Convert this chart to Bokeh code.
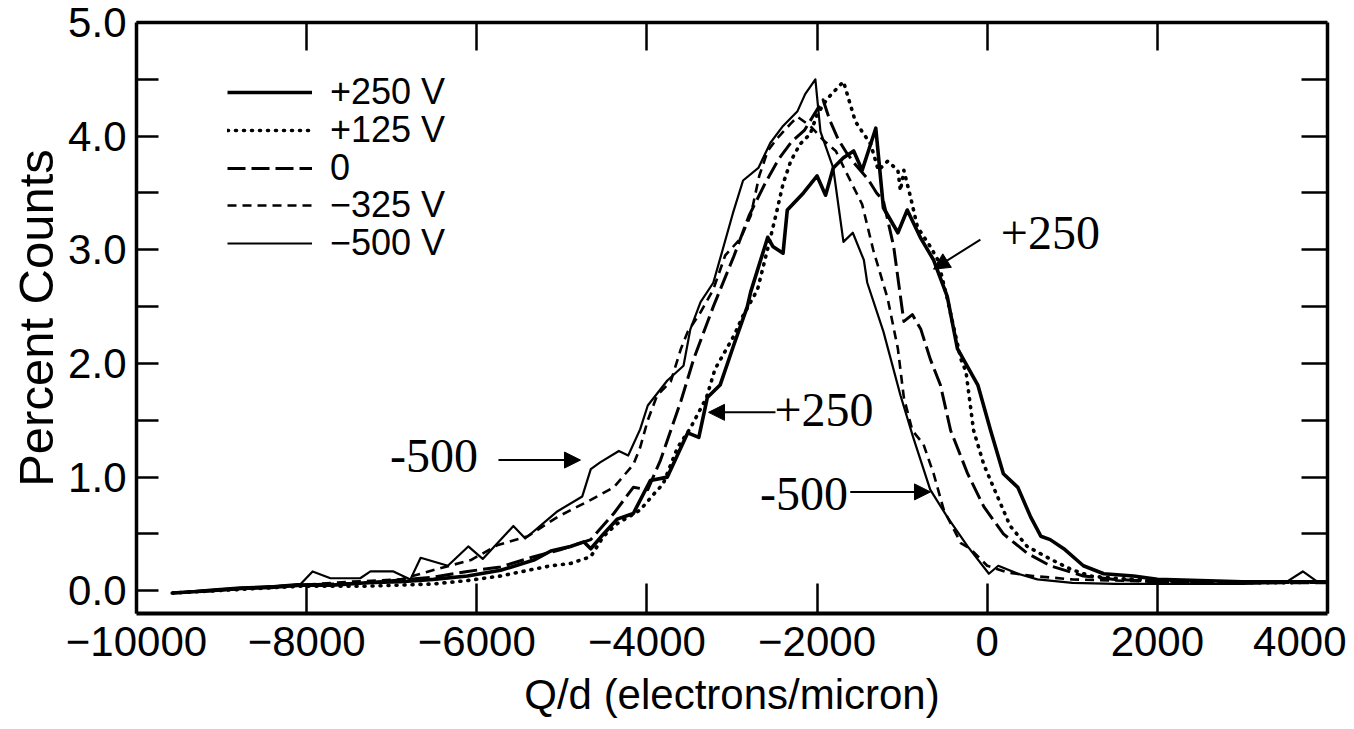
from bokeh.plotting import figure
from bokeh.models import (Range1d, LinearAxis, FixedTicker, NumeralTickFormatter,
                          CustomJSTickFormatter, Legend, LegendItem, Arrow, NormalHead, Label)
from bokeh.embed import file_html
from bokeh.resources import INLINE

# ---------------- data ----------------
X_TICKS = [-10000, -8000, -6000, -4000, -2000, 0, 2000, 4000]
Y_TICKS = [0, 1, 2, 3, 4, 5]
Y_MINOR = [0.5, 1.5, 2.5, 3.5, 4.5]
SERIES_NAMES = ["+250 V", "+125 V", "0", "\u2212325 V", "\u2212500 V"]
X_LABEL = "Q/d (electrons/micron)"
Y_LABEL = "Percent Counts"

P250_X = [-9580, -9130, -8780, -8420, -8070, -7700, -7290, -6900, -6510, -6110, -5720, -5330,
          -5130, -4900, -4740, -4660, -4510, -4350, -4160, -3960, -3760, -3600, -3520, -3390,
          -3290, -3140, -2980, -2820, -2780, -2580, -2520, -2400, -2350, -2160, -2000, -1900,
          -1810, -1690, -1570, -1470, -1310, -1220, -1050, -940, -780, -630, -470, -350, -110,
          40, 190, 360, 510, 630, 740, 900, 1130, 1370, 1720, 2000, 2500, 3000, 3500, 4000]
P250_Y = [-0.02, 0.00, 0.02, 0.03, 0.05, 0.05, 0.07, 0.08, 0.10, 0.13, 0.18, 0.27,
          0.35, 0.39, 0.43, 0.37, 0.50, 0.63, 0.68, 0.97, 1.00, 1.26, 1.39, 1.35,
          1.70, 1.81, 2.16, 2.50, 2.63, 3.11, 3.03, 2.97, 3.35, 3.50, 3.65, 3.48,
          3.72, 3.81, 3.87, 3.70, 4.07, 3.37, 3.15, 3.35, 3.10, 2.91, 2.59, 2.13, 1.81,
          1.41, 1.03, 0.91, 0.65, 0.48, 0.45, 0.37, 0.22, 0.15, 0.13, 0.10, 0.09, 0.08, 0.08, 0.08]

P125_X = [-9580, -8070, -7290, -6510, -6110, -5720, -5330, -5130, -4900, -4660, -4510, -4350,
          -4080, -3920, -3810, -3640, -3490, -3300, -3200, -2980, -2870, -2700, -2550, -2470,
          -2400, -2310, -2200, -2080, -2000, -1880, -1690, -1610, -1550, -1470, -1370, -1280,
          -1170, -1050, -1020, -980, -900, -820, -670, -580, -470, -310, -250, -160, -40,
          120, 270, 470, 740, 980, 1210, 1500, 2000, 2500, 3000, 3500, 4000]
P125_Y = [-0.02, 0.04, 0.04, 0.06, 0.09, 0.13, 0.19, 0.22, 0.24, 0.30, 0.48, 0.59,
          0.71, 0.85, 0.94, 1.26, 1.43, 1.70, 1.95, 2.24, 2.42, 2.65, 3.10, 3.35,
          3.58, 3.78, 3.93, 4.02, 4.19, 4.33, 4.48, 4.28, 4.13, 4.04, 3.93, 3.70,
          3.78, 3.70, 3.52, 3.70, 3.46, 3.20, 3.03, 2.91, 2.57, 2.04, 1.93, 1.41, 1.11,
          0.83, 0.57, 0.39, 0.28, 0.19, 0.13, 0.11, 0.09, 0.08, 0.07, 0.07, 0.08]

Z0_X = [-9580, -8070, -7290, -6510, -6110, -5720, -5330, -5020, -4660, -4390, -4160, -3990,
        -3840, -3600, -3450, -3220, -2980, -2800, -2600, -2450, -2300, -2150, -1930, -1850,
        -1750, -1650, -1550, -1400, -1300, -1220, -1100, -980, -880, -780, -670, -550, -430,
        -230, -40, 190, 470, 740, 1130, 1500, 2000, 2500, 3000, 3500, 4000]
Z0_Y = [-0.02, 0.05, 0.07, 0.12, 0.17, 0.21, 0.30, 0.36, 0.45, 0.68, 0.91, 0.89,
        1.15, 1.67, 2.04, 2.50, 2.94, 3.30, 3.60, 3.80, 3.95, 4.05, 4.32, 4.14,
        3.97, 3.85, 3.75, 3.62, 3.50, 3.43, 3.03, 2.37, 2.43, 2.30, 2.04, 1.81, 1.41,
        1.03, 0.74, 0.50, 0.33, 0.22, 0.13, 0.10, 0.08, 0.07, 0.07, 0.07, 0.07]

M325_X = [-9580, -8070, -7480, -6900, -6420, -6070, -5760, -5400, -5050, -4660, -4390, -4160,
          -4080, -3990, -3880, -3720, -3600, -3520, -3370, -3220, -3080, -2900, -2780, -2680,
          -2580, -2470, -2310, -2230, -2080, -1920, -1780, -1670, -1470, -1340, -1170, -1050,
          -980, -880, -750, -630, -510, -310, -200, 0, 240, 540, 1000, 1500, 2000, 2500,
          3000, 3500, 4000]
M325_Y = [-0.02, 0.05, 0.08, 0.10, 0.20, 0.27, 0.40, 0.48, 0.65, 0.80, 0.91, 1.11,
          1.26, 1.50, 1.72, 1.84, 2.13, 2.28, 2.45, 2.65, 2.95, 3.10, 3.30, 3.65,
          3.87, 3.98, 4.11, 4.17, 4.09, 3.96, 3.87, 3.70, 3.40, 3.00, 2.57, 2.13,
          1.70, 1.41, 1.29, 1.03, 0.71, 0.42, 0.37, 0.22, 0.16, 0.13, 0.10, 0.09, 0.08, 0.08,
          0.07, 0.07, 0.07]

M500_X = [-9580, -9130, -8780, -8430, -8070, -7930, -7720, -7370, -7250, -6980, -6780, -6660,
          -6340, -6100, -5930, -5570, -5430, -5050, -4760, -4660, -4550, -4330, -4220, -4080,
          -3990, -3760, -3570, -3490, -3370, -3220, -3110, -2990, -2870, -2690, -2550, -2400,
          -2230, -2140, -2020, -1960, -1810, -1690, -1580, -1450, -1410, -1220, -1020, -870,
          -670, -470, -230, 20, 130, 360, 590, 1000, 1500, 2000, 2500, 3000, 3500, 3710,
          3900, 4000]
M500_Y = [-0.02, 0.01, 0.03, 0.04, 0.06, 0.17, 0.11, 0.11, 0.17, 0.17, 0.10, 0.29,
          0.22, 0.39, 0.28, 0.57, 0.46, 0.70, 0.83, 1.07, 1.13, 1.23, 1.19, 1.42,
          1.63, 1.85, 1.98, 2.30, 2.54, 2.71, 3.00, 3.32, 3.61, 3.72, 3.94, 4.09,
          4.22, 4.37, 4.50, 4.04, 3.72, 3.07, 3.15, 2.91, 2.71, 2.28, 1.72, 1.35,
          0.89, 0.65, 0.39, 0.15, 0.22, 0.15, 0.10, 0.07, 0.06, 0.06, 0.06, 0.06, 0.07, 0.17,
          0.07, 0.07]

# annotation texts and anchor points (data units)
ANN_TEXTS = ["-500", "+250", "-500", "+250"]
ANN_TEXT_POS = [(-7020, 1.19), (-2500, 1.59), (-2670, 0.85), (160, 3.15)]
ANN_ARROWS = [(-5745, 1.15, -4781, 1.15), (-2489, 1.57, -3276, 1.57),
              (-1610, 0.87, -667, 0.87), (-80, 3.09, -631, 2.83)]

# ---------------- figure ----------------
SANS = "Liberation Sans"
SERIF = "Liberation Serif"

p = figure(width=1346, height=729,
           x_range=Range1d(-10000, 4000), y_range=Range1d(-0.2, 5.0),
           output_backend="svg", toolbar_location=None,
           min_border_left=136, min_border_right=19, min_border_top=22, min_border_bottom=116)
p.grid.visible = False
p.outline_line_color = None
p.background_fill_color = "white"
p.border_fill_color = "white"

styles = [
    dict(x=P250_X, y=P250_Y, line_width=3.6, line_dash="solid"),
    dict(x=P125_X, y=P125_Y, line_width=3.6, line_dash="1 7", line_cap="round"),
    dict(x=Z0_X, y=Z0_Y, line_width=3.0, line_dash="18 6"),
    dict(x=M325_X, y=M325_Y, line_width=2.6, line_dash="9 6"),
    dict(x=M500_X, y=M500_Y, line_width=2.2, line_dash="solid"),
]
renderers = []
for st in styles:
    r = p.line(st["x"], st["y"], line_color="black", line_width=st["line_width"],
               line_dash=st["line_dash"], line_cap=st.get("line_cap", "butt"),
               line_join="round")
    renderers.append(r)

# bottom axis
xa = p.xaxis[0]
xa.ticker = FixedTicker(ticks=X_TICKS)
xa.formatter = CustomJSTickFormatter(
    code="return tick < 0 ? '\\u2212' + Math.abs(tick) : String(tick);")
xa.axis_line_width = 4
xa.major_tick_in = 30
xa.major_tick_out = 0
xa.minor_tick_in = 0
xa.minor_tick_out = 0
xa.major_tick_line_width = 2.5
xa.major_label_text_font = SANS
xa.major_label_text_font_size = "42px"
xa.major_label_text_color = "black"
xa.major_label_standoff = 13
xa.axis_label = X_LABEL
xa.axis_label_text_font = SANS
xa.axis_label_text_font_size = "42px"
xa.axis_label_text_font_style = "normal"
xa.axis_label_text_color = "black"
xa.axis_label_standoff = 12

# left axis
ya = p.yaxis[0]
ya.ticker = FixedTicker(ticks=Y_TICKS, minor_ticks=Y_MINOR)
ya.formatter = NumeralTickFormatter(format="0.0")
ya.axis_line_width = 3.5
ya.major_tick_in = 22
ya.major_tick_out = 0
ya.minor_tick_in = 22
ya.minor_tick_out = 0
ya.major_tick_line_width = 2.5
ya.minor_tick_line_width = 2.5
ya.minor_tick_line_color = "black"
ya.major_label_text_font = SANS
ya.major_label_text_font_size = "42px"
ya.major_label_text_color = "black"
ya.major_label_standoff = 10
ya.axis_label = Y_LABEL
ya.axis_label_text_font = SANS
ya.axis_label_text_font_size = "49px"
ya.axis_label_text_font_style = "normal"
ya.axis_label_text_color = "black"
ya.axis_label_standoff = 2

# top and right frame axes with inward ticks, no labels
blank = CustomJSTickFormatter(code="return '';")
top = LinearAxis(ticker=FixedTicker(ticks=X_TICKS[1:-1]), formatter=blank, axis_line_width=3.5,
                 major_tick_in=28, major_tick_out=0, minor_tick_in=0, minor_tick_out=0,
                 major_tick_line_width=2.5, major_label_standoff=0)
p.add_layout(top, "above")
right = LinearAxis(ticker=FixedTicker(ticks=Y_MINOR + Y_TICKS[1:-1]), formatter=blank,
                   axis_line_width=3.5, major_tick_in=26, major_tick_out=0, minor_tick_in=0,
                   minor_tick_out=0, major_tick_line_width=2.5, major_label_standoff=0)
p.add_layout(right, "right")

# legend: one single-row legend per series so rows sit at the reference's tighter pitch
ROW_PITCH = 37.75
for i, (name, r) in enumerate(zip(SERIES_NAMES, renderers)):
    yloc = int(round(349 + (len(SERIES_NAMES) - 1 - i) * ROW_PITCH))
    lg = Legend(items=[LegendItem(label=name, renderers=[r])],
                location=(91, yloc), orientation="vertical",
                label_text_font=SANS, label_text_font_size="36px", label_text_color="black",
                label_text_line_height=1.0,
                label_height=30, glyph_height=30, glyph_width=85,
                label_standoff=18, spacing=0, padding=0, margin=0,
                border_line_color=None, background_fill_alpha=0)
    p.add_layout(lg)

# annotations
for (xs, ys, xe, ye) in ANN_ARROWS:
    p.add_layout(Arrow(end=NormalHead(size=16, fill_color="black", line_color="black"),
                       x_start=xs, y_start=ys, x_end=xe, y_end=ye,
                       line_color="black", line_width=2))
for t, (tx, ty) in zip(ANN_TEXTS, ANN_TEXT_POS):
    p.add_layout(Label(x=tx, y=ty, text=t, text_font=SERIF, text_font_size="48px",
                       text_baseline="middle", text_align="left", text_color="black"))

open("out.html", "w").write(file_html(p, INLINE))
